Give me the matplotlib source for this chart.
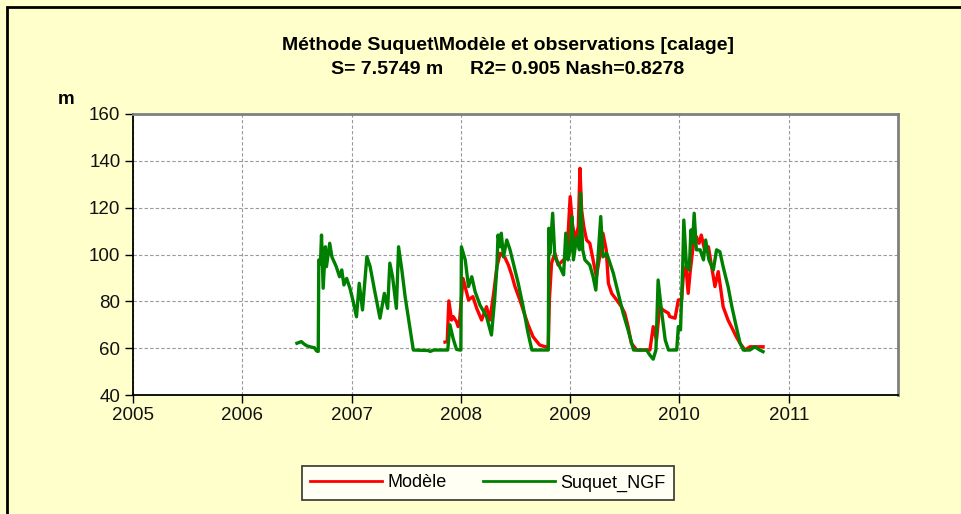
import matplotlib.pyplot as plt
import matplotlib.patches as patches

plt.rcParams['font.family'] = ['Liberation Sans', 'DejaVu Sans']

# Suquet_NGF observations (decimal year, m)
obs_t = [2006.50, 2006.54, 2006.565, 2006.59, 2006.635, 2006.66, 2006.68, 2006.695,
         2006.70, 2006.715, 2006.725, 2006.74, 2006.76, 2006.77, 2006.80, 2006.82,
         2006.86, 2006.89, 2006.91, 2006.93, 2006.955, 2006.985, 2007.015, 2007.045,
         2007.07, 2007.10, 2007.14, 2007.17, 2007.21, 2007.26, 2007.30, 2007.33,
         2007.35, 2007.375, 2007.41, 2007.43, 2007.46, 2007.49, 2007.565, 2007.70,
         2007.72, 2007.75, 2007.88, 2007.90, 2007.93, 2007.96, 2007.99, 2008.00,
         2008.005, 2008.04, 2008.07, 2008.10, 2008.13, 2008.175, 2008.235, 2008.28,
         2008.31, 2008.33, 2008.34, 2008.36, 2008.37, 2008.39, 2008.42, 2008.45,
         2008.48, 2008.525, 2008.57, 2008.615, 2008.65, 2008.80, 2008.805, 2008.815,
         2008.84, 2008.86, 2008.905, 2008.94, 2008.96, 2008.98, 2009.00, 2009.015,
         2009.03, 2009.06, 2009.085, 2009.095, 2009.115, 2009.135, 2009.18, 2009.21,
         2009.235, 2009.255, 2009.28, 2009.30, 2009.335, 2009.365, 2009.395, 2009.44,
         2009.485, 2009.53, 2009.58, 2009.70, 2009.73, 2009.76, 2009.785, 2009.805,
         2009.835, 2009.87, 2009.90, 2009.975, 2009.99, 2010.01, 2010.03, 2010.04,
         2010.065, 2010.09, 2010.105, 2010.12, 2010.135, 2010.155, 2010.19, 2010.22,
         2010.24, 2010.27, 2010.31, 2010.34, 2010.37, 2010.40, 2010.445, 2010.48,
         2010.52, 2010.555, 2010.585, 2010.645, 2010.69, 2010.735, 2010.765]
obs_v = [62.1, 62.8, 61.8, 61.0, 60.4, 60.2, 58.8, 58.6,
         97.7, 96.0, 108.3, 85.6, 103.3, 94.8, 104.8, 99.0,
         94.8, 90.5, 93.4, 87.0, 89.8, 85.6, 79.9, 73.4,
         87.7, 76.3, 99.1, 94.8, 84.8, 72.8, 83.4, 77.0,
         96.3, 90.5, 77.0, 103.3, 93.4, 82.0, 59.2, 59.0,
         58.6, 59.2, 59.2, 70.0, 64.0, 59.5, 59.2, 59.2,
         103.3, 97.7, 86.3, 90.5, 84.2, 78.4, 73.5, 65.6,
         81.3, 94.8, 108.3, 103.3, 109.1, 99.0, 106.2, 102.0,
         96.3, 87.7, 77.7, 66.4, 59.2, 59.2, 111.2, 100.5,
         117.6, 99.0, 94.8, 91.3, 109.1, 97.7, 102.0, 116.2,
         97.7, 107.6, 102.0, 126.1, 102.0, 97.7, 95.5, 90.5,
         84.8, 99.0, 116.2, 99.0, 100.5, 96.3, 92.0, 83.4,
         74.9, 67.8, 59.2, 59.2, 57.0, 55.3, 59.2, 89.1,
         76.3, 63.5, 59.2, 59.2, 69.2, 67.8, 94.8, 114.7,
         94.8, 93.4, 110.5, 104.8, 117.6, 102.0, 102.0, 97.7,
         106.2, 97.7, 93.4, 102.0, 101.2, 94.8, 86.3, 77.7,
         69.2, 62.1, 59.2, 59.2, 60.6, 59.2, 58.5]

# Model (decimal year, m)
mod_t = [2007.855, 2007.875, 2007.89, 2007.915, 2007.93, 2007.96, 2007.975, 2007.985,
         2008.02, 2008.07, 2008.11, 2008.145, 2008.19, 2008.235, 2008.265, 2008.30,
         2008.33, 2008.36, 2008.40, 2008.435, 2008.465, 2008.495, 2008.54, 2008.585,
         2008.615, 2008.66, 2008.72, 2008.77, 2008.80, 2008.81, 2008.83, 2008.86,
         2008.89, 2008.94, 2008.97, 2009.00, 2009.02, 2009.045, 2009.075, 2009.09,
         2009.105, 2009.125, 2009.15, 2009.18, 2009.21, 2009.24, 2009.27, 2009.30,
         2009.33, 2009.35, 2009.38, 2009.425, 2009.47, 2009.50, 2009.53, 2009.56,
         2009.61, 2009.73, 2009.76, 2009.79, 2009.82, 2009.85, 2009.90, 2009.91,
         2009.96, 2009.99, 2010.02, 2010.035, 2010.06, 2010.08, 2010.10, 2010.125,
         2010.155, 2010.18, 2010.20, 2010.23, 2010.265, 2010.295, 2010.325, 2010.355,
         2010.375, 2010.40, 2010.445, 2010.49, 2010.52, 2010.555, 2010.60, 2010.645,
         2010.705, 2010.765]
mod_v = [62.6, 62.8, 80.2, 72.0, 73.5, 71.3, 69.2, 70.0,
         89.8, 80.6, 82.0, 77.0, 72.0, 77.7, 72.0, 83.4,
         94.8, 100.5, 99.0, 95.5, 91.3, 86.3, 80.6, 74.2,
         70.0, 64.9, 61.4, 60.6, 60.6, 80.6, 96.3, 100.5,
         95.5, 97.7, 99.0, 124.7, 113.3, 106.2, 111.9, 136.8,
         119.0, 111.9, 106.2, 104.8, 97.7, 90.5, 99.0, 109.1,
         102.0, 87.7, 83.4, 80.6, 77.7, 74.9, 69.2, 62.1,
         59.2, 59.2, 69.2, 63.5, 77.7, 76.3, 74.9, 73.5,
         72.8, 80.6, 80.6, 90.5, 94.8, 83.4, 93.4, 103.3,
         107.6, 104.8, 108.3, 102.0, 103.3, 94.8, 86.3, 92.7,
         86.3, 77.7, 72.0, 67.8, 64.9, 62.1, 59.2, 60.6,
         60.6, 60.6]

years = [2005, 2006, 2007, 2008, 2009, 2010, 2011]
yticks = [40, 60, 80, 100, 120, 140, 160]

fig = plt.figure(figsize=(9.62, 5.14), dpi=100, facecolor='#FFFFCC')
ax = fig.add_axes([133 / 962, 1 - 395 / 514, 765 / 962, 281 / 514])
ax.set_facecolor('white')

# outer frame of the chart (runs off the right and bottom edges)
fig.patches.append(patches.Rectangle((7 / 962, -0.1), 1.2, 1.1 - 7 / 514,
                                     transform=fig.transFigure, fill=False,
                                     edgecolor='black', linewidth=2))

l1, = ax.plot(mod_t, mod_v, color='#FF0000', lw=2.4, label='Modèle', zorder=3)
l2, = ax.plot(obs_t, obs_v, color='#008000', lw=2.4, label='Suquet_NGF', zorder=4)

ax.set_xlim(2005, 2012)
ax.set_ylim(40, 160)
ax.set_xticks(years)
ax.set_xticklabels([str(y) for y in years])
ax.set_yticks(yticks)
ax.grid(True, color='#999999', linestyle=(0, (3, 2)), linewidth=0.8)
ax.set_axisbelow(True)
ax.tick_params(direction='out', length=6, width=1, color='black', labelsize=13.5,
               labelcolor='#111111', pad=3)

for s in ['left', 'bottom']:
    ax.spines[s].set_color('black')
    ax.spines[s].set_linewidth(1.3)
for s in ['top', 'right']:
    ax.spines[s].set_color('#808080')
    ax.spines[s].set_linewidth(2)

fig.text(508 / 962, 1 - 46 / 514, 'Méthode Suquet\\Modèle et observations [calage]',
         ha='center', va='center', fontsize=14, fontweight='bold')
fig.text(508 / 962, 1 - 70 / 514, 'S= 7.5749 m     R2= 0.905 Nash=0.8278',
         ha='center', va='center', fontsize=14, fontweight='bold')
fig.text(66 / 962, 1 - 100 / 514, 'm', ha='center', va='center',
         fontsize=13.5, fontweight='bold')

leg = fig.legend(handles=[l1, l2], loc='center', ncol=2,
                 bbox_to_anchor=(488 / 962, 1 - 483 / 514), fontsize=13,
                 frameon=True, fancybox=False, handlelength=4, handletextpad=0.3,
                 columnspacing=2.0, borderpad=0.45)
leg.get_frame().set_edgecolor('black')
leg.get_frame().set_linewidth(1.2)
for h in leg.get_lines():
    h.set_linewidth(2)

fig.savefig('out.png', dpi=100, facecolor=fig.get_facecolor())
